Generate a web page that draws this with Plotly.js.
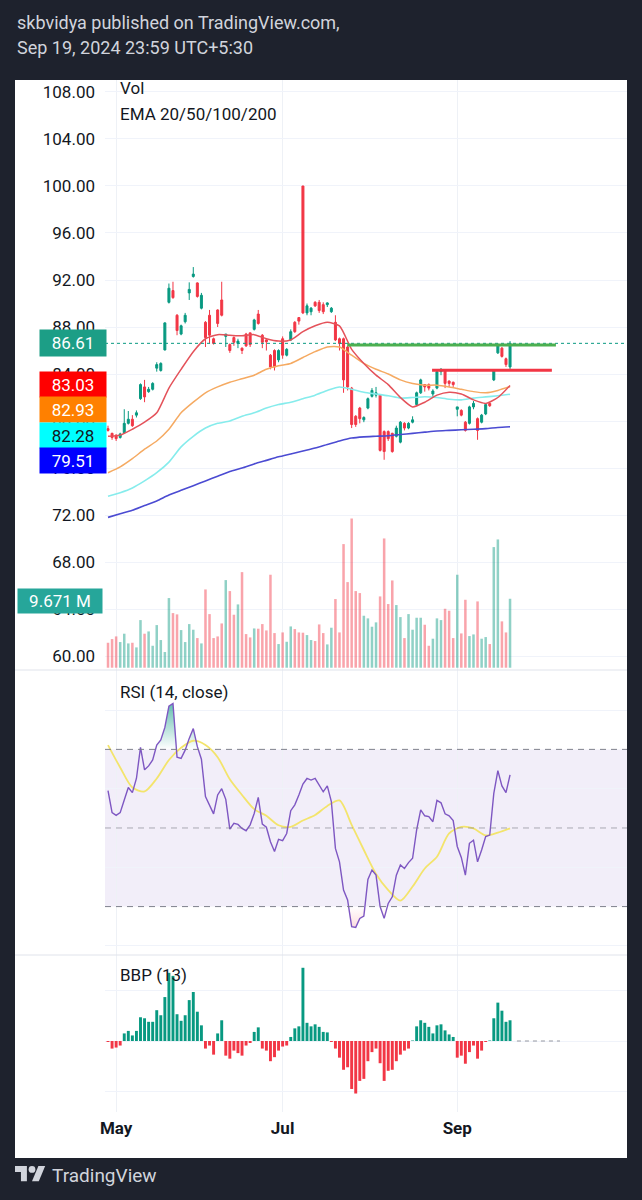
<!DOCTYPE html>
<html><head><meta charset="utf-8">
<script src="https://cdn.plot.ly/plotly-3.0.1.min.js"></script>
<style>html,body{margin:0;padding:0;background:#1e222d;}#chart{width:642px;height:1200px;}</style>
</head><body><div id="chart"></div>
<script>
// ---------- calendar (NSE trading days) ----------
const holidays = ['2024-05-01','2024-06-17','2024-07-17','2024-08-15'];
function tradingDays(startStr, endStr, skip) {
  const out = []; const d = new Date(startStr + 'T00:00:00Z'); const end = new Date(endStr + 'T00:00:00Z');
  while (d <= end) { const wd = d.getUTCDay(); const s = d.toISOString().slice(0,10);
    if (wd !== 0 && wd !== 6 && !skip.includes(s)) out.push(s); d.setUTCDate(d.getUTCDate() + 1); }
  return out;
}
const dates = tradingDays('2024-04-29', '2024-09-19', holidays);

// ---------- price data ----------
const open = [79.35,78.95,78.8,78.6,79.0,79.8,80.15,80.5,81.9,82.9,
82.5,82.7,84.5,84.3,86.05,90.1,91.1,89.0,87.4,88.45,
90.9,92.3,91.75,89.6,88.4,89.0,87.0,89.45,90.3,87.2,
86.5,87.1,86.6,86.2,87.4,87.5,87.8,89.1,87.3,86.9,
85.6,86.0,85.2,87.0,85.6,86.9,88.4,88.8,100.0,89.2,
89.3,90.1,90.1,89.9,89.9,89.3,88.4,87.0,87.0,86.3,
82.8,80.4,81.1,80.1,81.1,82.1,82.2,82.2,79.1,79.1,
78.95,78.7,78.2,79.8,79.4,79.9,81.4,82.4,83.1,83.1,
82.3,82.8,84.2,84.3,83.4,83.3,81.0,80.9,79.9,79.8,
81.2,80.2,79.9,80.6,81.5,83.5,85.8,86.2,85.3,84.6];
const high = [79.6,79.0,78.85,79.0,81.0,80.85,80.5,80.9,83.2,83.5,
82.9,83.3,85.0,85.0,88.4,91.7,91.85,89.1,88.2,89.2,
91.8,93.1,91.8,90.9,88.5,89.45,87.1,89.5,91.85,87.4,
86.6,87.2,87.0,86.25,87.5,87.5,88.7,89.45,87.4,86.95,
85.7,86.1,86.1,87.2,86.2,87.8,88.5,88.85,100.0,90.0,
89.7,90.2,90.3,90.1,90.1,89.7,89.0,87.1,87.1,86.4,
82.9,80.5,81.2,80.4,82.0,82.8,82.9,82.3,79.2,79.2,
79.0,79.6,80.0,79.9,79.9,80.4,82.5,83.6,83.15,83.2,
82.7,84.3,84.5,84.4,83.45,83.35,81.2,81.0,80.0,81.3,
81.7,80.3,80.6,81.5,81.6,84.35,86.6,86.3,85.4,86.8];
const low = [79.1,78.4,78.3,78.5,78.9,79.7,79.5,80.3,81.8,81.6,
82.4,82.6,84.2,84.2,86.0,90.0,90.4,87.3,87.3,88.3,
90.3,92.2,90.5,89.5,86.3,86.6,86.5,88.0,88.9,86.3,
85.8,86.4,86.2,85.7,86.3,86.3,87.7,88.2,86.2,86.0,
84.4,84.3,85.0,85.3,85.5,86.8,87.5,88.2,89.1,89.0,
89.0,89.7,89.2,89.1,89.7,89.2,86.8,86.0,82.4,82.6,
79.4,79.5,79.8,79.9,81.0,82.0,82.0,77.4,76.7,78.3,
77.3,78.6,78.1,79.2,79.3,79.8,81.3,82.3,82.5,82.6,
82.0,82.7,83.9,82.8,82.9,82.9,80.4,80.4,79.1,79.7,
81.0,78.4,79.8,80.5,81.2,83.4,85.7,85.4,84.6,84.4];
const close = [79.2,78.6,78.5,78.9,79.8,80.15,79.6,80.7,83.1,82.05,
82.7,83.2,84.8,84.9,88.35,91.3,90.5,87.7,88.1,89.0,
91.2,92.5,90.6,90.7,87.1,87.3,86.6,88.3,89.0,87.4,
86.0,86.7,86.8,86.0,86.4,86.5,88.6,88.3,86.7,86.75,
84.6,84.6,86.0,85.6,86.1,87.6,87.6,88.5,89.2,89.8,
89.6,89.8,89.4,89.3,90.05,89.6,86.9,86.6,83.5,82.9,
79.7,79.7,80.2,80.3,81.9,82.6,82.4,77.5,77.4,78.5,
77.4,79.4,79.9,79.4,79.8,80.1,82.4,83.5,82.9,82.8,
82.55,84.2,84.4,83.2,83.2,83.1,81.2,80.5,79.2,81.2,
81.5,79.2,80.5,81.4,81.3,84.3,86.5,85.5,84.8,86.61];
const volumeM = [3.50,4.02,4.39,3.60,4.77,3.41,3.50,2.85,6.68,4.77,
5.09,3.08,5.98,3.88,2.20,9.77,7.66,7.48,5.28,3.60,
6.12,5.33,4.16,3.41,10.98,7.52,4.16,4.39,6.21,12.29,
10.75,7.43,8.88,13.41,4.72,4.25,5.51,5.47,6.12,5.23,
13.04,4.86,3.32,4.95,3.64,5.79,5.42,4.95,4.91,4.58,
3.88,3.74,6.07,4.86,3.27,5.61,9.63,4.95,17.34,12.01,
20.93,10.75,10.47,7.29,6.92,5.75,6.36,10.00,18.13,8.93,
12.24,8.79,7.10,4.16,7.52,5.33,7.01,7.01,6.03,3.08,
4.07,6.92,6.68,8.27,7.99,4.16,13.04,4.81,9.53,4.44,
4.67,9.30,4.07,4.30,3.32,16.92,17.99,6.50,4.95,9.671];

// EMA lines read at every third bar
const sampleIdx = [0,3,6,9,12,15,18,21,24,27,30,33,36,39,42,45,48,51,54,57,60,63,66,69,72,75,78,81,84,87,90,93,96,99];
const ema20 = [78.7,78.8,79.3,79.9,80.7,82.8,84.4,85.9,87.0,87.35,87.3,87.25,87.35,87.0,86.8,86.9,87.6,88.1,88.4,88.1,86.1,84.9,83.9,83.1,82.0,81.2,81.6,82.2,82.45,82.3,81.8,81.5,82.0,83.03];
const ema50 = [75.6,76.1,76.8,77.6,78.3,79.3,80.7,81.6,82.4,82.9,83.3,83.6,83.9,84.4,84.7,84.9,85.4,85.9,86.3,86.3,85.6,84.9,84.4,84.0,83.5,83.2,83.05,83.05,82.9,82.7,82.5,82.4,82.6,82.93];
const ema100 = [73.6,73.9,74.3,74.9,75.6,76.5,77.8,78.7,79.4,79.8,80.0,80.4,80.7,81.1,81.4,81.6,81.9,82.2,82.6,82.9,82.7,82.45,82.3,82.15,81.95,82.0,82.07,82.0,81.85,81.8,81.95,82.05,82.15,82.28];
const ema200 = [71.8,72.1,72.4,72.8,73.2,73.7,74.1,74.5,74.9,75.3,75.7,76.0,76.35,76.65,76.95,77.2,77.45,77.7,78.0,78.3,78.55,78.65,78.7,78.75,78.85,78.95,79.05,79.15,79.2,79.25,79.3,79.35,79.45,79.51];
const emaLabels = ['83.03','82.93','82.28','79.51'];

// ---------- RSI (14, close) ----------
const rsi = [59.5,53.9,53.2,53.9,57.1,60.3,59.0,62.6,70.5,64.8,
65.8,67.3,71.1,72.4,75.6,81.0,81.7,68.0,67.7,69.8,
72.8,75.3,70.7,67.5,58.0,55.6,53.6,58.4,60.0,57.3,
49.7,51.2,50.9,49.9,49.3,50.8,53.7,57.8,51.0,50.2,
46.5,44.0,47.1,46.8,48.6,54.4,55.9,58.4,61.2,62.6,
62.2,62.6,60.7,59.2,60.7,56.7,44.8,41.4,34.2,31.7,
24.9,24.7,27.0,27.6,36.9,39.3,38.0,30.0,27.0,30.8,
32.5,38.0,40.6,39.7,41.2,42.3,49.5,54.6,53.1,52.9,
51.6,57.0,56.4,53.6,53.1,51.9,45.3,42.5,38.0,46.1,
46.9,41.4,44.4,47.8,48.2,58.8,64.6,60.7,59.0,63.5];
const rsiMa = [71.1,65.4,60.3,59.3,62.6,67.3,70.4,72.2,71.1,68.0,62.4,58.4,54.8,53.1,50.7,50.3,51.9,53.3,55.6,57.0,50.8,44.4,38.3,34.2,31.5,35.1,39.7,42.7,48.6,50.3,49.9,48.1,48.8,49.9];
const rsiLevels = [70, 50, 30];

// ---------- BBP (13) ----------
const bbp = [-0.2,-1.5,-1.3,-0.9,1.5,2.0,1.1,2.0,4.7,4.5,
3.8,3.8,6.1,5.1,8.7,13.5,12.9,5.3,4.0,5.1,
8.1,9.7,5.8,3.1,-1.5,-0.9,-2.7,1.5,4.1,-2.9,
-3.5,-1.9,-2.4,-2.9,-0.9,-0.4,1.8,2.7,-1.5,-1.9,
-4.0,-3.2,-1.9,-1.1,-0.9,0.8,2.5,2.9,14.5,3.6,
2.9,3.3,2.8,1.8,1.7,-0.2,-1.5,-3.3,-5.7,-5.2,
-9.5,-10.4,-7.9,-7.5,-4.0,-2.2,-1.5,-4.4,-7.9,-5.9,
-5.7,-4.0,-2.7,-1.9,-1.5,0.1,2.9,4.1,3.6,2.8,
1.5,3.1,3.3,2.1,1.3,0.8,-3.3,-2.9,-4.5,-2.2,
-0.9,-3.5,-1.9,-0.2,0.1,4.5,7.6,6.0,3.8,4.1];

// drawn horizontal levels (price, from bar, to bar)
const levelPrice = [86.47, 84.31];
const levelFrom = [58.9, 79.8];
const levelTo = [110.3, 109.3];

const tickMonths = ['May','Jul','Sep'];
const tickDates = ['2024-05-02','2024-07-01','2024-09-02'];

// ---------- geometry helpers ----------
const L = 105, R = 627, T = 80, B = 1158;
const xp = px => (px - L) / (R - L);
const yp = py => (B - py) / (B - T);
const FONT = 'Roboto, "Noto Sans", "DejaVu Sans", sans-serif';
const UP = '#089981', DN = '#f23645', INK = '#131722';
const sx = sampleIdx.map(i => dates[i]);
const isUp = close.map((c, i) => c >= open[i]);

const traces = [
  {type:'candlestick', x:dates, open:open, high:high, low:low, close:close, xaxis:'x', yaxis:'y',
   increasing:{line:{color:UP, width:1}, fillcolor:UP}, decreasing:{line:{color:DN, width:1}, fillcolor:DN},
   whiskerwidth:0},
  {type:'scatter', mode:'lines', x:sx, y:ema200, yaxis:'y', line:{color:'#4b4bd2', width:1.6, shape:'spline', smoothing:0.6}},
  {type:'scatter', mode:'lines', x:sx, y:ema100, yaxis:'y', line:{color:'#86ecec', width:1.6, shape:'spline', smoothing:0.6}},
  {type:'scatter', mode:'lines', x:sx, y:ema50, yaxis:'y', line:{color:'#f5aa62', width:1.5, shape:'spline', smoothing:0.6}},
  {type:'scatter', mode:'lines', x:sx, y:ema20, yaxis:'y', line:{color:'#e4525a', width:1.5, shape:'spline', smoothing:0.6}},
  {type:'bar', x:dates, y:volumeM, yaxis:'y2', width:0.62,
   marker:{color:isUp.map(u => u ? 'rgba(8,153,129,0.45)' : 'rgba(242,54,69,0.45)')}},
  // RSI zone fills (gradient toward extremes)
  {type:'scatter', mode:'lines', x:dates, y:dates.map(() => 70), yaxis:'y3', line:{width:0}},
  {type:'scatter', mode:'lines', x:dates, y:rsi.map(v => Math.max(v, 70)), yaxis:'y3', line:{width:0}, fill:'tonexty',
   fillcolor:'rgba(8,153,129,0.2)',
   fillgradient:{type:'vertical', start:70, stop:84, colorscale:[[0,'rgba(8,153,129,0)'],[1,'rgba(8,153,129,0.75)']]}},
  {type:'scatter', mode:'lines', x:dates, y:dates.map(() => 30), yaxis:'y3', line:{width:0}},
  {type:'scatter', mode:'lines', x:dates, y:rsi.map(v => Math.min(v, 30)), yaxis:'y3', line:{width:0}, fill:'tonexty',
   fillcolor:'rgba(242,54,69,0.08)',
   fillgradient:{type:'vertical', start:30, stop:16, colorscale:[[0,'rgba(242,54,69,0)'],[1,'rgba(242,54,69,0.45)']]}},
  {type:'scatter', mode:'lines', x:sx, y:rsiMa, yaxis:'y3', line:{color:'#f3e46c', width:1.8, shape:'spline', smoothing:0.8}},
  {type:'scatter', mode:'lines', x:dates, y:rsi, yaxis:'y3', line:{color:'#7e57c2', width:1.4}},
  {type:'bar', x:dates, y:bbp, yaxis:'y4', width:0.72, marker:{color:bbp.map(v => v >= 0 ? UP : DN)}}
];
traces.forEach(t => { t.hoverinfo = 'skip'; t.showlegend = false; });

const shapes = [
  {type:'rect', xref:'paper', yref:'paper', x0:xp(15), x1:xp(627), y0:yp(1158), y1:yp(80), fillcolor:'#ffffff', line:{width:0}, layer:'below'},
  {type:'rect', xref:'paper', yref:'y3', x0:0, x1:1, y0:30, y1:70, fillcolor:'rgba(126,87,194,0.1)', line:{width:0}, layer:'below'},
  {type:'line', xref:'paper', yref:'paper', x0:xp(15), x1:1, y0:yp(670), y1:yp(670), line:{color:'#e0e3eb', width:1}},
  {type:'line', xref:'paper', yref:'paper', x0:xp(15), x1:1, y0:yp(955), y1:yp(955), line:{color:'#e0e3eb', width:1}},
  {type:'line', xref:'paper', yref:'y', x0:0, x1:1, y0:close[99], y1:close[99], line:{color:UP, width:1, dash:'dot'}},
  {type:'line', xref:'x', yref:'y4', x0:100.7, x1:111.3, y0:0, y1:0, line:{color:'#9598a1', width:1, dash:'4px,4px'}}
];
rsiLevels.forEach(v => shapes.push({type:'line', xref:'paper', yref:'y3', x0:0, x1:1, y0:v, y1:v,
  line:{color: v === 50 ? 'rgba(120,123,134,0.6)' : 'rgba(120,123,134,0.95)', width:1, dash:'6px,5px'}}));
const levelColors = ['#4caf50', '#f23645'];
levelPrice.forEach((p, i) => shapes.push({type:'line', xref:'x', yref:'y', x0:levelFrom[i], x1:levelTo[i], y0:p, y1:p,
  line:{color:levelColors[i], width:3}}));

// TradingView logo
const lx = u => xp(15 + u * 0.85), ly = v => yp(1162.6 + v * 0.85);
const poly = pts => 'M' + pts.map(p => lx(p[0]) + ',' + ly(p[1])).join(' L') + ' Z';
shapes.push({type:'path', xref:'paper', yref:'paper', path:poly([[14,22],[7,22],[7,11],[0,11],[0,4],[14,4]]), fillcolor:'#d1d4dc', line:{width:0}});
shapes.push({type:'path', xref:'paper', yref:'paper', path:poly([[28,22],[20,22],[27.5,4],[35.5,4]]), fillcolor:'#d1d4dc', line:{width:0}});
shapes.push({type:'circle', xref:'paper', yref:'paper', x0:lx(16), x1:lx(24), y0:ly(12), y1:ly(4), fillcolor:'#d1d4dc', line:{width:0}});

const ann = [];
function txt(text, px, py, size, color, extra) {
  ann.push(Object.assign({xref:'paper', yref:'paper', x:xp(px), y:yp(py), xanchor:'left', yanchor:'middle',
    text:text, showarrow:false, font:{family:FONT, size:size, color:color}}, extra || {}));
}
txt('skbvidya published on TradingView.com,', 15, 22, 18, '#d1d4dc');
txt('Sep 19, 2024 23:59 UTC+5:30', 15, 47, 18, '#d1d4dc');
txt('Vol', 118, 88, 17, INK);
txt('EMA 20/50/100/200', 118, 114, 17, INK);
txt('RSI (14, close)', 118, 692, 17, INK);
txt('BBP (13)', 118, 975, 17, INK);
txt('TradingView', 50, 1175, 19, '#d1d4dc');

function badge(text, cx, cy, w, h, bg, fg) {
  ann.push({xref:'paper', yref:'paper', x:xp(cx), y:yp(cy), xanchor:'center', yanchor:'middle', text:text,
    showarrow:false, bgcolor:bg, width:w, height:h, borderpad:2, align:'center',
    font:{family:FONT, size:17, color:fg}});
}
const lastY = 186 + (100 - close[99]) * 11.75;
badge(close[99].toFixed(2), 73, lastY, 62, 22, '#1c9e86', '#ffffff');
const emaBadgeBg = ['#ff0000', '#ff8000', '#00ffff', '#0000ff'];
const emaBadgeFg = ['#ffffff', '#ffffff', INK, '#ffffff'];
[384.5, 409.8, 435, 460.5].forEach((cy, i) => badge(emaLabels[i], 73, cy, 62, 21, emaBadgeBg[i], emaBadgeFg[i]));
badge(volumeM[99].toFixed(3) + ' M', 60, 601, 80, 20, '#26a69a', '#ffffff');

const layout = {
  width:642, height:1200, margin:{l:L, r:642 - R, t:T, b:1200 - B},
  paper_bgcolor:'#1e222d', plot_bgcolor:'rgba(0,0,0,0)', showlegend:false, barmode:'overlay',
  hovermode:false, dragmode:false, font:{family:FONT, color:INK},
  xaxis:{type:'category', range:[-0.74, 127.8], anchor:'y4', tickvals:tickDates, ticktext:tickMonths,
    showgrid:true, gridcolor:'#eef1f6', ticks:'', showline:false, zeroline:false, rangeslider:{visible:false},
    tickfont:{family:FONT, size:17, color:INK, weight:'bold'}, ticklabelstandoff:4, tickangle:0, fixedrange:true},
  yaxis:{domain:[yp(670), 1], range:[58.81, 109.02], dtick:4, tick0:0, tickformat:'.2f', showgrid:true,
    gridcolor:'#f0f3fa', zeroline:false, ticks:'', side:'left', tickfont:{family:FONT, size:17, color:INK},
    ticklabelstandoff:9, fixedrange:true},
  yaxis2:{overlaying:'y', range:[-0.32, 82.43], visible:false, fixedrange:true},
  yaxis3:{domain:[yp(955), yp(670)], range:[17.68, 90.2], tickvals:[20,40,60,80], showticklabels:false,
    showgrid:true, gridcolor:'#f0f3fa', zeroline:false, ticks:'', fixedrange:true},
  yaxis4:{domain:[yp(1112), yp(955)], range:[-14.06, 17.03], tickvals:[-10,0,10], showticklabels:false,
    showgrid:true, gridcolor:'#f0f3fa', zeroline:false, ticks:'', fixedrange:true},
  shapes:shapes, annotations:ann
};
Plotly.newPlot('chart', traces, layout, {staticPlot:true, displayModeBar:false});
</script></body></html>
